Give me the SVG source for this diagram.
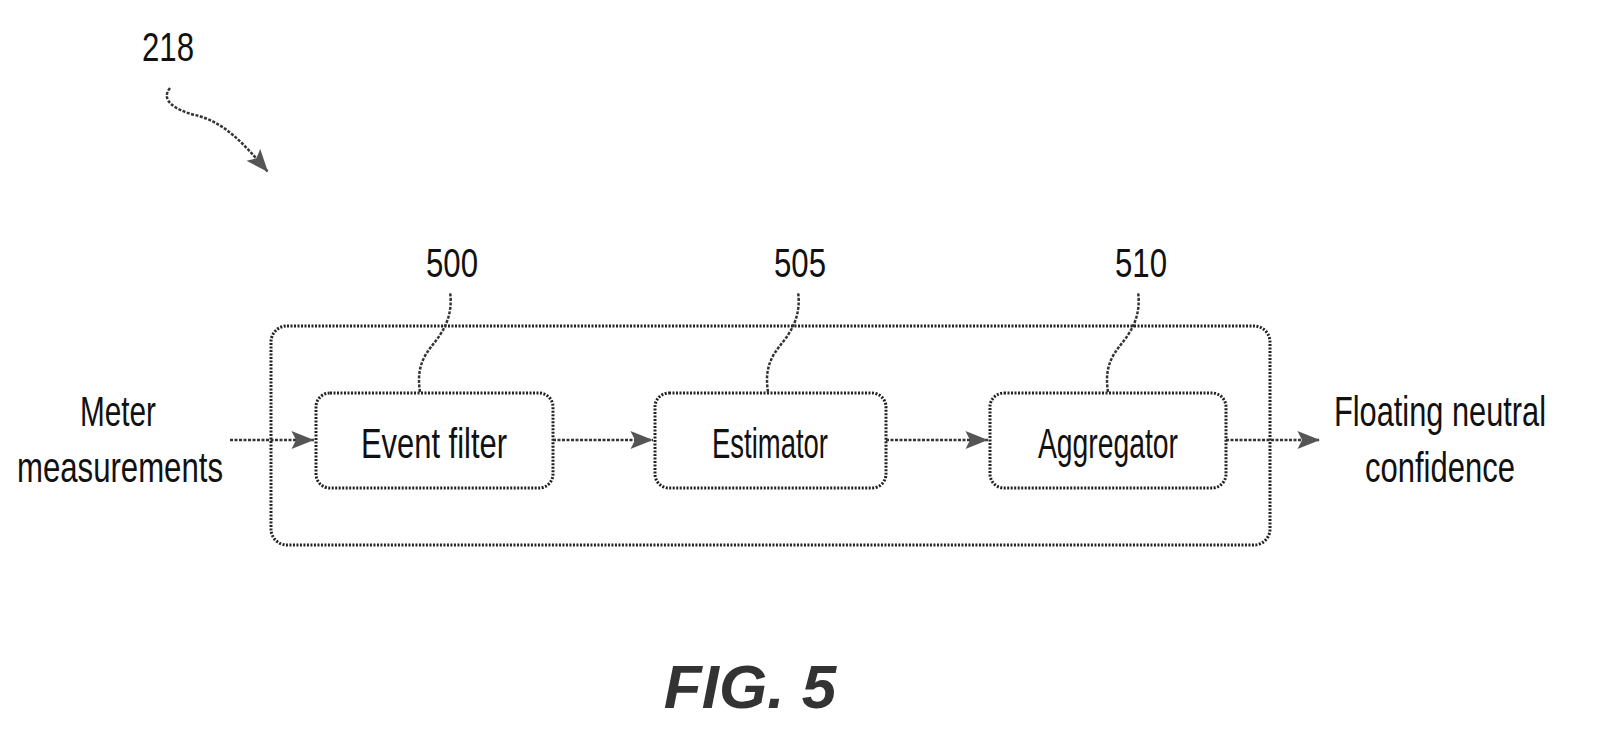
<svg xmlns="http://www.w3.org/2000/svg" width="1603" height="750" viewBox="0 0 1603 750">
<defs>
<style>
text{font-family:"Liberation Sans",Arial,sans-serif;fill:#111}
.l{font-size:43px;text-anchor:middle}
.n{font-size:40px;text-anchor:middle}
.box{fill:none;stroke:#222;stroke-width:3;stroke-dasharray:2 1.5}
.c{fill:none;stroke:#333;stroke-width:2.5;stroke-dasharray:3 1.5}
</style>
<marker id="a" viewBox="0 0 10 10" refX="10" refY="5" markerWidth="11" markerHeight="9" markerUnits="strokeWidth" orient="auto"><path d="M0,1 L10,5 L0,9 L2,5 Z" fill="#555"/></marker>
</defs>
<rect width="1603" height="750" fill="#fff"/>
<g id="outer"><rect class="box" x="271" y="326" width="999" height="219" rx="16"/></g>
<g id="n500"><rect class="box" x="316" y="393" width="237" height="95" rx="14"/><text class="l" x="434" y="458" textLength="146" lengthAdjust="spacingAndGlyphs">Event filter</text></g>
<g id="n505"><rect class="box" x="655" y="393" width="231" height="95" rx="14"/><text class="l" x="770" y="458" textLength="116" lengthAdjust="spacingAndGlyphs">Estimator</text></g>
<g id="n510"><rect class="box" x="990" y="393" width="236" height="95" rx="14"/><text class="l" x="1108" y="458" textLength="140" lengthAdjust="spacingAndGlyphs">Aggregator</text></g>
<g id="in"><text class="l" x="118" y="426" textLength="76" lengthAdjust="spacingAndGlyphs">Meter</text><text class="l" x="120" y="482" textLength="206" lengthAdjust="spacingAndGlyphs">measurements</text></g>
<g id="out"><text class="l" x="1440" y="426" textLength="212" lengthAdjust="spacingAndGlyphs">Floating neutral</text><text class="l" x="1440" y="482" textLength="150" lengthAdjust="spacingAndGlyphs">confidence</text></g>
<g id="labels">
<text class="n" x="452" y="277" textLength="52" lengthAdjust="spacingAndGlyphs">500</text>
<text class="n" x="800" y="277" textLength="52" lengthAdjust="spacingAndGlyphs">505</text>
<text class="n" x="1141" y="277" textLength="52" lengthAdjust="spacingAndGlyphs">510</text>
<text class="n" x="168" y="61" textLength="52" lengthAdjust="spacingAndGlyphs">218</text>
<text x="750" y="708" style="font-size:62px;font-weight:bold;font-style:italic;text-anchor:middle;fill:#333">FIG. 5</text>
</g>
<g id="connectors">
<path class="c" d="M230,440 H314" marker-end="url(#a)"/>
<path class="c" d="M553,440 H653" marker-end="url(#a)"/>
<path class="c" d="M886,440 H988" marker-end="url(#a)"/>
<path class="c" d="M1226,440 H1320" marker-end="url(#a)"/>
<path class="c" d="M420,392 C415,360 430,350 440,335 C450,320 452,305 450,292"/>
<path class="c" d="M768,392 C763,360 778,350 788,335 C798,320 800,305 798,292"/>
<path class="c" d="M1108,392 C1103,360 1118,350 1128,335 C1138,320 1140,305 1138,292"/>
<path class="c" d="M170,88 C160,100 175,110 195,115 C225,122 245,145 268,172" marker-end="url(#a)"/>
</g>
</svg>
